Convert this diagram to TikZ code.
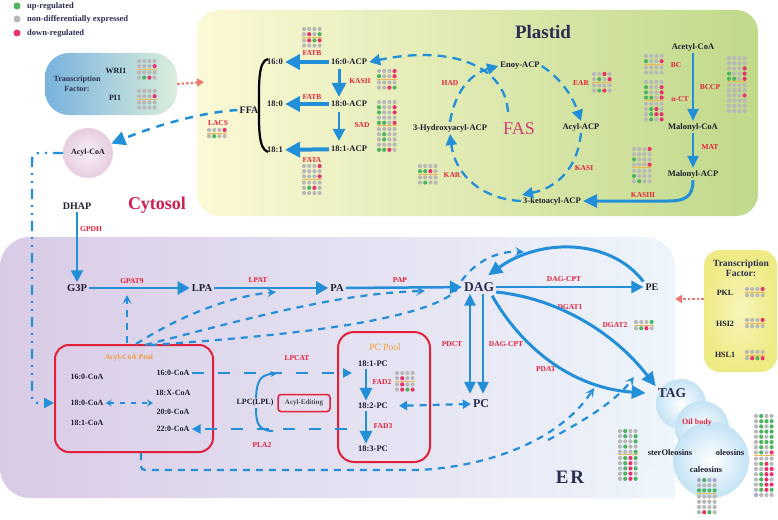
\documentclass[tikz,border=0pt]{standalone}
\usepackage{fontspec}
\setmainfont{Liberation Serif}
\usetikzlibrary{arrows.meta,calc}
\definecolor{cblue}{HTML}{248FD9}
\definecolor{cred}{HTML}{E5213C}
\definecolor{credarr}{HTML}{EC7A72}
\definecolor{cdotr}{HTML}{E8326C}
\definecolor{cdotg}{HTML}{4DB560}
\definecolor{cdotn}{HTML}{B8B8B8}
\definecolor{cdotb}{HTML}{A9A9CF}
\definecolor{cline}{HTML}{F2B554}
\definecolor{ctext}{HTML}{1E1E2E}
\definecolor{ctitle}{HTML}{2B2E52}
\definecolor{corange}{HTML}{F29A38}
\definecolor{cpool}{HTML}{E3203A}
\definecolor{ccyto}{HTML}{D11F4F}
\definecolor{cfas}{HTML}{D23C78}
\definecolor{plL}{HTML}{FCF9D6}
\definecolor{plM}{HTML}{EEF1C2}
\definecolor{plR}{HTML}{C0D98A}
\definecolor{erL}{HTML}{D9CBE6}
\definecolor{erM}{HTML}{E4E0F0}
\definecolor{erR}{HTML}{EEF5FB}
\definecolor{cloudc}{HTML}{C4E3F5}
\definecolor{tlL}{HTML}{78B2DD}
\definecolor{tlR}{HTML}{DAEFDC}
\definecolor{tfI}{HTML}{F7F5BC}
\definecolor{tfO}{HTML}{EEEA84}
\definecolor{acI}{HTML}{F8EFF6}
\definecolor{acO}{HTML}{E6CDE1}
\definecolor{lpcbg}{HTML}{E1DBED}
\newcommand{\fsz}[1]{\fontsize{#1}{#1}\selectfont}
\newcommand{\dgrid}[5]{%
  \begin{scope}[shift={(#1,#2)}]
    \foreach \rw [count=\i from 0] in {#4}{%
      \foreach \cc [count=\j from 0] in \rw {\fill[fill=cdot\cc] (\j*5.2,\i*5.2) circle (2.1);}}
    \pgfmathsetmacro{\lny}{(#3-1)*5.2+3.1}
    \draw[draw=cline, line width=0.9pt] (-2.5,\lny) -- (18.1,\lny);
    \foreach \rw [count=\i from 0] in {#5}{%
      \foreach \cc [count=\j from 0] in \rw {\fill[fill=cdot\cc] (\j*5.2,#3*5.2+1+\i*5.2) circle (2.1);}}
  \end{scope}}
\tikzset{
  lab/.style={font=\fsz{8.5}\bfseries, text=ctext, inner sep=2pt},
  enz/.style={font=\fsz{7.5}\bfseries, text=cred, inner sep=1pt},
  mid/.style={font=\fsz{10.5}\bfseries, text=ctext, inner sep=2pt},
  large/.style={font=\fsz{13}\bfseries, text=ctitle, inner sep=2pt},
  ar/.style n args={3}{draw=cblue, line width=#1, -{Triangle[length=#2,width=#3]}},
  arb/.style n args={3}{draw=cblue, line width=#1, {Triangle[length=#2,width=#3]}-{Triangle[length=#2,width=#3]}},
  dsh/.style={draw=cblue, line width=2.2pt, dash pattern=on 7pt off 6pt},
  cyc/.style={draw=cblue, line width=2.3pt, dash pattern=on 9pt off 6pt, -{Triangle[length=11pt,width=11pt]}},
  chev/.style={-{Stealth[length=9pt,width=9pt,inset=4pt]}},
  redarr/.style={draw=credarr, line width=2.2pt, dash pattern=on 2.5pt off 2pt, -{Triangle[length=7pt,width=8pt]}},
  pool/.style={draw=cpool, line width=2pt, rounded corners=14pt},
}
\begin{document}
\begin{tikzpicture}[x=1pt,y=-1pt]
\useasboundingbox (0,0) rectangle (778,519);
\fill[white] (0,0) rectangle (778,519);

% ---------- regions ----------
\shade[left color=plL, middle color=plM, right color=plR, rounded corners=22pt] (197,10) rectangle (758,216);
\shade[left color=erL, middle color=erM, right color=erR, rounded corners=30pt] (0,237) rectangle (675,498);
\fill[erR] (645,470) rectangle (675,498);
\shade[inner color=white, outer color=cloudc] (681,404) circle (25);
\shade[inner color=white, outer color=cloudc] (702,428) circle (27);
\shade[inner color=white, outer color=cloudc] (711,460) circle (38);

% ---------- legend ----------
\foreach \yy/\cc/\lt [count=\k] in {6/cdotg/up-regulated, 19/cdotn/non-differentially expressed, 33/cdotr/down-regulated}{
  \node[circle, fill=\cc, minimum size=7pt, inner sep=0pt] (lgd\k) at (17,\yy) {};
  \node[anchor=west, font=\fsz{8.5}\bfseries, text=ctitle, inner sep=0pt] (lgt\k) at (27,\yy) {\lt};
}

% ---------- transcription factor (left) ----------
\node[rounded corners=24pt, minimum width=132pt, minimum height=62pt, inner sep=0pt, left color=tlL, right color=tlR] (tfl) at (111,84) {};
\node[font=\fontsize{8}{10}\selectfont\bfseries, text=ctitle, align=center] (tfltxt) at (77,84) {Transcription\\Factor:};
\node[lab, font=\fsz{8}\bfseries] (wri1) at (116,71) {WRI1};
\node[lab, font=\fsz{8}\bfseries] (pi1) at (115,98) {PI1};
\dgrid{139}{61}{2}{{n,n,n,n},{n,n,n,r}}{{n,n,n,n},{n,g,r,n}}
\dgrid{139}{91}{2}{{n,n,n,n},{n,n,n,r}}{{n,n,n,n},{n,n,n,n}}
\coordinate (plastidin) at (204,82);
\draw[redarr] (tfl.east) -- (plastidin);

% ---------- plastid ----------
\node[font=\fsz{19}\bfseries, text=ctitle] (plastid) at (543,32) {Plastid};
\node[mid, font=\fsz{10}\bfseries] (ffa) at (249,110) {FFA};
\node[enz] (lacs) at (218,123) {LACS};
\dgrid{209}{130}{1}{{n,n,n,r}}{{n,g,n,n}}
\node[lab] (f160) at (275,62) {16:0};
\node[lab] (f180) at (275,104) {18:0};
\node[lab] (f181) at (275,150) {18:1};
\draw[black, line width=2.2pt] (268,59) .. controls (258,61) and (259,85) .. (259,105) .. controls (259,125) and (258,149) .. (268,152);
\node[lab] (acp160) at (349,62) {16:0-ACP};
\node[lab] (acp180) at (349,104) {18:0-ACP};
\node[lab] (acp181) at (349,149) {18:1-ACP};
\draw[ar={4pt}{15pt}{15pt}] (acp160) -- (f160);
\draw[ar={4pt}{15pt}{15pt}] (acp180) -- (f180);
\draw[ar={4pt}{15pt}{15pt}] (acp181) -- (f181);
\draw[ar={3pt}{14pt}{14pt}, shorten <=2pt, shorten >=2pt] ([xshift=-10pt]acp160.south) -- ([xshift=-10pt]acp180.north);
\draw[ar={2.6pt}{12pt}{12pt}, shorten <=3pt, shorten >=3pt] ([xshift=-10pt]acp180.south) -- ([xshift=-10pt]acp181.north);
\node[enz] (fatb1) at (312,53) {FATB};
\node[enz] (fatb2) at (312,97) {FATB};
\node[enz] (fata) at (312,160) {FATA};
\node[enz] (kasii) at (360,81) {KASII};
\node[enz] (sad) at (362,125) {SAD};
\dgrid{304}{29}{2}{{n,n,n,n},{n,r,n,g}}{{n,r,g,r},{n,n,n,n}}
\dgrid{379}{71}{2}{{n,n,n,r},{g,n,n,r}}{{n,n,n,n},{n,n,r,g}}
\dgrid{379}{102}{5}{{n,n,n,n},{g,n,n,r},{g,n,n,r},{n,n,n,n},{g,g,n,r}}{{n,n,n,n},{n,g,n,n},{n,g,n,n},{n,n,n,n},{g,g,r,n}}
\dgrid{304}{166}{3}{{n,n,n,r},{n,n,n,n},{n,n,n,r}}{{n,n,n,n},{n,g,r,n},{n,n,n,n}}

% FAS cycle
\node[lab] (enoy) at (520,66) {Enoy-ACP};
\node[lab] (acyl) at (581,127) {Acyl-ACP};
\node[lab] (keto) at (552,201) {3-ketoacyl-ACP};
\node[lab] (hydroxy) at (450,128) {3-Hydroxyacyl-ACP};
\node[font=\fsz{18}, text=cfas] (fas) at (519,129) {FAS};
\node[enz] (had) at (450,83) {HAD};
\node[enz] (ear) at (581,83) {EAR};
\node[enz] (kasi) at (584,168) {KASI};
\node[enz] (kar) at (452,175) {KAR};
\dgrid{420}{166}{2}{{n,n,n,n},{g,g,r,n}}{{n,n,n,n},{n,g,n,n}}
\dgrid{594}{74}{2}{{n,n,r,n},{n,g,n,r}}{{n,n,n,n},{n,g,r,n}}
\draw[cyc] (hydroxy.north) .. controls (455,92) and (470,74) .. (enoy.west);
\draw[cyc] (enoy.east) .. controls (560,78) and (572,95) .. (acyl.north);
\draw[cyc] (acyl.south) .. controls (578,165) and (560,187) .. ([xshift=-30pt]keto.north);
\draw[cyc] (keto.west) .. controls (482,199) and (455,175) .. (hydroxy.south);
\coordinate (fasback) at (508,112);
\draw[cyc] (fasback) .. controls (505,65) and (450,45) .. (acp160.east);

% acetyl-CoA branch
\node[lab] (acetyl) at (693,47) {Acetyl-CoA};
\node[lab] (malcoa) at (693,127) {Malonyl-CoA};
\node[lab] (malacp) at (693,174) {Malonyl-ACP};
\draw[ar={2.2pt}{12pt}{11pt}] (acetyl) -- (malcoa);
\draw[ar={2.2pt}{12pt}{11pt}] (malcoa) -- (malacp);
\draw[ar={3pt}{14pt}{13pt}] (malacp.south) .. controls (693,197) and (685,201) .. (668,201) -- (keto.east);
\node[enz] (bc) at (676,65) {BC};
\node[enz] (act) at (680,99) {α-CT};
\node[enz] (bccp) at (710,87) {BCCP};
\node[enz] (mat) at (710,147) {MAT};
\node[enz] (kasiii) at (643,195) {KASIII};
\dgrid{646}{56}{2}{{n,n,n,n},{g,n,n,r}}{{n,n,n,n},{n,n,n,n}}
\dgrid{646}{82}{4}{{n,n,n,n},{g,n,n,r},{g,n,n,r},{g,g,n,r}}{{n,n,n,n},{n,g,r,n},{n,g,r,r},{n,g,n,r}}
\dgrid{729}{58}{5}{{n,n,n,n},{n,n,n,n},{n,n,n,r},{g,n,n,r},{g,g,n,r}}{{n,n,n,n},{n,n,n,n},{n,n,n,r},{n,n,n,n},{n,n,n,n},{n,n,n,n}}
\dgrid{634}{149}{4}{{n,n,n,r},{n,n,n,n},{g,n,n,n},{n,n,n,r}}{{n,n,n,n},{g,n,n,n},{n,g,n,n}}

% ---------- cytosol ----------
\node[circle, minimum size=50pt, inner sep=0pt, inner color=acI, outer color=acO, font=\fsz{8}\bfseries, text=ctext] (acoa) at (88,153) {Acyl-CoA};
\draw[dsh, line width=2.5pt, dash pattern=on 8pt off 7pt, -{Triangle[length=14pt,width=14pt]}] (ffa.west) .. controls (195,113) and (150,128) .. (acoa);
\node[font=\fsz{18}\bfseries, text=ccyto] (cytosol) at (157,205) {Cytosol};
\node[mid, font=\fsz{10}\bfseries] (dhap) at (77,206) {DHAP};
\node[mid] (g3p) at (77,288) {G3P};
\node[mid] (lpa) at (202,288) {LPA};
\node[mid] (pa) at (337,288) {PA};
\node[large, font=\fsz{13.5}\bfseries] (dag) at (479,287) {DAG};
\node[mid, font=\fsz{10}\bfseries] (pe) at (652,287) {PE};
\node[large, font=\fsz{12}\bfseries] (pc) at (481,404) {PC};
\node[large, font=\fsz{13.5}\bfseries] (tag) at (672,393) {TAG};
\node[enz] (gpdh) at (91,229) {GPDH};
\node[enz] (gpat9) at (132,281) {GPAT9};
\node[enz] (lpat) at (258,280) {LPAT};
\node[enz] (pap) at (400,280) {PAP};
\node[enz] (dagcpt1) at (564,279) {DAG-CPT};
\node[enz] (dgat1) at (570,307) {DGAT1};
\node[enz] (dgat2) at (615,325) {DGAT2};
\node[enz] (pdat) at (546,369) {PDAT};
\node[enz] (pdct) at (452,344) {PDCT};
\node[enz] (dagcpt2) at (506,344) {DAG-CPT};
\dgrid{636}{322}{1}{{n,n,n,g}}{{n,g,r,n}}
\draw[ar={2.4pt}{12pt}{12pt}] (dhap) -- (g3p);
\draw[ar={2.5pt}{12pt}{13pt}] (g3p) -- (lpa);
\draw[ar={2.5pt}{12pt}{13pt}] (lpa) -- (pa);
\draw[ar={2.5pt}{12pt}{13pt}] (pa) -- (dag);
\draw[ar={2.6pt}{12pt}{12pt}] (dag) -- (pe);
\draw[ar={3pt}{14pt}{13pt}] (pe.north west) .. controls (610,238) and (540,238) .. ([xshift=-8pt,yshift=5pt]dag.north east);
\draw[ar={3pt}{14pt}{13pt}] ([yshift=-5pt]dag.east) .. controls (555,298) and (612,330) .. (tag.north west);
\draw[ar={3pt}{14pt}{13pt}] ([xshift=-4pt,yshift=-2pt]dag.south east) .. controls (520,345) and (570,388) .. ([xshift=-10pt]tag.west);
\draw[arb={2.6pt}{12pt}{11pt}, shorten >=4pt] ([xshift=-9pt]dag.south) -- ([xshift=-11pt]pc.north);
\draw[ar={2.6pt}{12pt}{11pt}, shorten >=4pt] ([xshift=4pt]dag.south) -- ([xshift=2pt]pc.north);

% ---------- pools ----------
\draw[pool] (55,345) rectangle (213,452);
\node[font=\fsz{7.5}\bfseries, text=corange] (acpooltitle) at (129,358) {Acyl-CoA Pool};
\node[lab, font=\fsz{8}\bfseries] (l160) at (87,377) {16:0-CoA};
\node[lab, font=\fsz{8}\bfseries] (l180) at (87,403) {18:0-CoA};
\node[lab, font=\fsz{8}\bfseries] (l181) at (87,423) {18:1-CoA};
\node[lab, font=\fsz{8}\bfseries] (r160) at (173,373) {16:0-CoA};
\node[lab, font=\fsz{8}\bfseries] (r18x) at (173,393) {18:X-CoA};
\node[lab, font=\fsz{8}\bfseries] (r200) at (173,412) {20:0-CoA};
\node[lab, font=\fsz{8}\bfseries] (r220) at (173,429) {22:0-CoA};
\coordinate (apmid) at (153,403);
\draw[dsh, line width=2pt, dash pattern=on 5pt off 6pt, {Stealth[length=6pt,width=7pt]}-{Stealth[length=6pt,width=7pt]}] (l180.east) -- (apmid);

\draw[pool, rounded corners=16pt] (338,332) rectangle (430,462);
\node[font=\fsz{9.5}, text=corange] (pcpooltitle) at (385,347) {PC Pool};
\node[lab] (pc181) at (373,364) {18:1-PC};
\node[lab] (pc182) at (373,406) {18:2-PC};
\node[lab] (pc183) at (373,449) {18:3-PC};
\draw[ar={2.6pt}{13pt}{12pt}] ([xshift=-7pt]pc181.south) -- ([xshift=-7pt]pc182.north);
\draw[ar={2.6pt}{13pt}{12pt}] ([xshift=-7pt]pc182.south) -- ([xshift=-7pt]pc183.north);
\node[enz] (fad2) at (382,382) {FAD2};
\node[enz] (fad3) at (383,426) {FAD3};
\dgrid{397}{373}{2}{{n,n,n,n},{n,r,n,n}}{{n,r,n,n},{n,r,g,r}}
\draw[dsh, {Triangle[length=8pt,width=9pt]}-{Triangle[length=8pt,width=9pt]}, shorten <=9pt] (pc182.east) -- (pc.west);

% acyl editing
\coordinate (lpcend) at (352,373);
\draw[dsh, dash pattern=on 12pt off 14pt, -{Triangle[length=9pt,width=9pt]}] (r160.east) -- (lpcend);
\coordinate (pla2s) at (347,429);
\draw[dsh, dash pattern=on 12pt off 14pt, -{Triangle[length=9pt,width=9pt]}] (pla2s) -- (r220.east);
\coordinate (lpcbot) at (273,431);
\coordinate (lpctop) at (276,374);
\draw[cblue, line width=2pt, -{Stealth[length=5pt,width=6pt]}] (lpcbot) .. controls (255,431) and (256,418) .. (256,403) .. controls (256,385) and (258,374) .. (lpctop);
\node[font=\fsz{8}\bfseries, text=ctext, fill=lpcbg, inner sep=1pt] (lpc) at (255,403) {LPC(LPL)};
\node[draw=cpool, line width=1.5pt, rounded corners=3pt, minimum width=52pt, minimum height=17pt, inner sep=0pt, font=\fsz{7}\bfseries, text=black!70] (editing) at (304,403) {Acyl-Editing};
\node[enz] (lpcat) at (297,358) {LPCAT};
\node[enz] (pla2) at (262,445) {PLA2};

% dashed acyl-CoA supply lines
\coordinate (poolin) at (54,403);
\draw[cblue, line width=2.4pt, dash pattern=on 10pt off 6pt on 2pt off 6pt on 2pt off 6pt, -{Triangle[length=10pt,width=10pt]}] (acoa.west) -- (45,153) .. controls (32,153) .. (32,166) -- (32,392) .. controls (32,403) .. (42,403) -- (poolin);
\coordinate (apv) at (127,343);
\coordinate (gpatpt) at (127,295);
\draw[dsh, chev] (apv) -- (gpatpt);
\coordinate (ap1) at (136,344);
\coordinate (lpatpt) at (276,292);
\draw[dsh, chev] (ap1) .. controls (180,316) and (230,296) .. (lpatpt);
\coordinate (ap2) at (145,345);
\coordinate (pappt) at (425,291);
\draw[dsh, chev] (ap2) .. controls (250,318) and (340,293) .. (pappt);
\coordinate (ap3) at (150,345);
\coordinate (pedagpt) at (524,252);
\draw[dsh, chev] (ap3) .. controls (300,335) and (420,320) .. (455,292) .. controls (465,270) and (490,250) .. (pedagpt);
\coordinate (apb) at (141,453);
\coordinate (tagA) at (594,388);
\draw[dsh, chev] (apb) -- (141,462) .. controls (141,470) .. (150,470) -- (420,470) .. controls (490,466) and (560,440) .. (tagA);
\coordinate (lbs) at (548,440);
\coordinate (tagB) at (634,377);
\draw[dsh, chev] (lbs) .. controls (585,420) and (615,402) .. (tagB);

% ---------- ER / oil body ----------
\node[font=\fsz{19}\bfseries, text=ctitle] (er) at (570,477) {E\kern2pt R};
\node[font=\fsz{8}\bfseries, text=cred] (oilbody) at (697,423) {Oil body};
\node[lab] (sterol) at (670,453) {sterOleosins};
\node[lab] (oleo) at (730,453) {oleosins};
\node[lab] (caleo) at (706,470) {caleosins};
\dgrid{620}{431}{5}{{n,g,n,n},{n,g,n,g},{n,n,n,g},{n,g,n,n},{n,n,n,g}}{{n,g,r,g},{n,g,r,n},{n,g,r,g},{n,g,r,n},{n,g,r,g}}
\dgrid{699}{480}{3}{{b,g,b,b},{n,n,n,n},{g,g,g,g}}{{n,n,n,n},{n,n,n,n},{n,n,n,n},{n,r,g,n}}
\dgrid{756}{416}{8}{{n,g,n,n},{n,g,g,g},{n,g,n,g},{n,g,g,g},{n,g,n,g},{n,g,g,g},{n,g,n,g},{n,g,n,r}}{{n,n,n,n},{n,g,r,n},{n,n,r,r},{n,g,r,r},{n,g,r,n},{n,g,r,r},{n,g,r,g},{b,n,n,n}}

% ---------- transcription factor (right) ----------
\node[rounded corners=16pt, minimum width=73pt, minimum height=122pt, inner sep=0pt, inner color=tfI, outer color=tfO] (tfr) at (740.5,311) {};
\node[font=\fontsize{9.5}{10}\selectfont\bfseries, text=ctitle, align=center] (tfrtxt) at (741,268) {Transcription\\Factor:};
\node[lab, font=\fsz{8}\bfseries] (pkl) at (725,293) {PKL};
\node[lab, font=\fsz{8}\bfseries] (hsi2) at (725,324) {HSI2};
\node[lab, font=\fsz{8}\bfseries] (hsl1) at (725,355) {HSL1};
\dgrid{747}{289}{1}{{n,n,n,r}}{{n,n,n,n}}
\dgrid{747}{320}{1}{{n,n,n,r}}{{n,n,n,n}}
\dgrid{747}{352}{1}{{n,n,n,n}}{{n,r,g,r}}
\coordinate (erin) at (675,299);
\draw[redarr] ([yshift=12pt]tfr.west) -- (erin);
\end{tikzpicture}
\end{document}
